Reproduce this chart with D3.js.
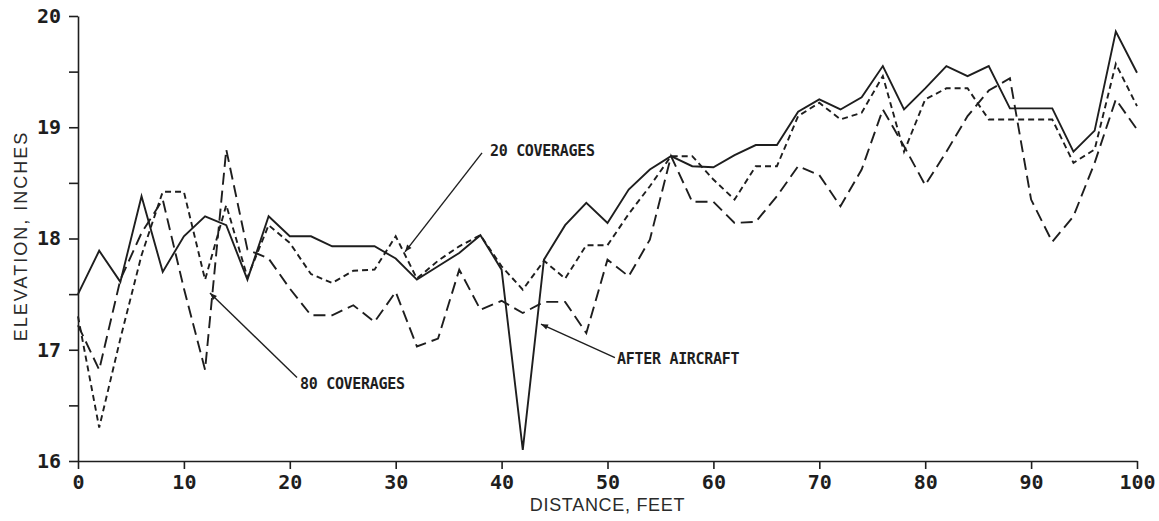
<!DOCTYPE html>
<html>
<head>
<meta charset="utf-8">
<script src="https://cdn.jsdelivr.net/npm/d3@7"></script>
<style>
  html, body { margin: 0; padding: 0; background: #ffffff; }
  svg { display: block; }
</style>
</head>
<body>
<svg id="chart" width="1159" height="521"></svg>
<script>
// Surface elevation profiles along the test lane, read every 2 ft
const distanceFt = [0,2,4,6,8,10,12,14,16,18,20,22,24,26,28,30,32,34,36,38,40,42,44,46,48,50,
  52,54,56,58,60,62,64,66,68,70,72,74,76,78,80,82,84,86,88,90,92,94,96,98,100];

const afterAircraft = [17.50,17.89,17.61,18.38,17.70,18.02,18.20,18.12,17.63,18.20,18.02,18.02,17.93,
  17.93,17.93,17.82,17.63,17.75,17.87,18.03,17.72,16.10,17.81,18.12,18.32,18.14,18.44,18.62,18.74,
  18.65,18.64,18.75,18.84,18.84,19.14,19.25,19.16,19.27,19.55,19.16,19.35,19.55,19.46,19.55,19.17,
  19.17,19.17,18.78,18.97,19.86,19.49];

const coverages20 = [17.30,16.30,17.10,17.85,18.42,18.42,17.63,18.30,17.65,18.12,17.96,17.68,17.60,
  17.71,17.72,18.02,17.64,17.80,17.93,18.03,17.75,17.54,17.80,17.64,17.94,17.94,18.22,18.47,18.74,
  18.74,18.53,18.35,18.65,18.65,19.10,19.22,19.07,19.13,19.46,18.78,19.25,19.35,19.35,19.07,19.07,
  19.07,19.07,18.68,18.80,19.57,19.19];

const coverages80 = [17.22,16.82,17.63,18.05,18.35,17.55,16.82,18.80,17.90,17.82,17.55,17.31,17.31,
  17.40,17.25,17.52,17.03,17.10,17.72,17.36,17.44,17.33,17.43,17.43,17.15,17.81,17.66,17.99,18.74,
  18.33,18.33,18.14,18.15,18.38,18.65,18.57,18.29,18.62,19.16,18.83,18.48,18.78,19.10,19.33,19.44,
  18.35,17.97,18.20,18.68,19.25,18.98];

const xTickValues = [0,10,20,30,40,50,60,70,80,90,100];
const yTickValues = [16,16.5,17,17.5,18,18.5,19,19.5,20];
const yTickLabels = ["16","","17","","18","","19","","20"];

const xTitle = "DISTANCE, FEET";
const yTitle = "ELEVATION, INCHES";

const seriesNames = ["AFTER AIRCRAFT", "20 COVERAGES", "80 COVERAGES"];

// ---- drawing ----
const svg = d3.select("#chart");
const ink = "#1e1e1e";

const x = d3.scaleLinear().domain([0, 100]).range([78, 1137]);
const y = d3.scaleLinear().domain([16, 20]).range([461, 16]);

const tickFont = "'DejaVu Sans Mono', monospace";

// y axis
const yAxis = svg.append("g")
  .attr("transform", `translate(${x(0)},0)`)
  .call(d3.axisLeft(y)
    .tickValues(yTickValues)
    .tickFormat((d, i) => yTickLabels[i])
    .tickSize(9)
    .tickSizeOuter(0)
    .tickPadding(8));

// x axis
const xAxis = svg.append("g")
  .attr("transform", `translate(0,${y(16)})`)
  .call(d3.axisBottom(x)
    .tickValues(xTickValues)
    .tickFormat(d3.format("d"))
    .tickSize(8)
    .tickSizeOuter(0)
    .tickPadding(6));

[xAxis, yAxis].forEach(g => {
  g.select(".domain").attr("stroke", ink).attr("stroke-width", 1.6);
  g.selectAll(".tick line").attr("stroke", ink).attr("stroke-width", 1.6);
  g.selectAll(".tick text")
    .attr("fill", ink)
    .style("font-family", tickFont)
    .style("font-weight", "bold")
    .style("font-size", "20px");
});

// axis titles
svg.append("text")
  .attr("x", (x(0) + x(100)) / 2)
  .attr("y", 511)
  .attr("text-anchor", "middle")
  .attr("fill", "#2a2a2a")
  .style("font-family", "'Liberation Sans', Arial, sans-serif")
  .style("font-size", "18px")
  .style("letter-spacing", "0.7px")
  .text(xTitle);

svg.append("text")
  .attr("transform", "translate(27,236) rotate(-90)")
  .attr("text-anchor", "middle")
  .attr("fill", "#2a2a2a")
  .style("font-family", "'Liberation Sans', Arial, sans-serif")
  .style("font-size", "18px")
  .style("letter-spacing", "2px")
  .text(yTitle);

// profile lines
const line = d3.line()
  .x((d, i) => x(distanceFt[i]))
  .y(d => y(d));

const profiles = [
  { values: afterAircraft, dash: null },
  { values: coverages20, dash: "6,4" },
  { values: coverages80, dash: "12,6" }
];

svg.append("g").selectAll("path")
  .data(profiles)
  .join("path")
  .attr("d", p => line(p.values))
  .attr("fill", "none")
  .attr("stroke", ink)
  .attr("stroke-width", 1.9)
  .attr("stroke-linejoin", "miter")
  .attr("stroke-dasharray", p => p.dash);

// callouts: arrow tip on the curve, tail at the label
svg.append("defs").append("marker")
  .attr("id", "head")
  .attr("viewBox", "0 0 10 10")
  .attr("refX", 10).attr("refY", 5)
  .attr("markerWidth", 9).attr("markerHeight", 7)
  .attr("markerUnits", "userSpaceOnUse")
  .attr("orient", "auto")
  .append("path")
  .attr("d", "M0,1 L10,5 L0,9 Z")
  .attr("fill", ink);

const callouts = [
  { name: seriesNames[1], tip: [30.88, 17.88], tail: [38.15, 18.77], at: [38.9, 18.745] },
  { name: seriesNames[2], tip: [12.46, 17.51], tail: [20.68, 16.75], at: [20.96, 16.65] },
  { name: seriesNames[0], tip: [43.72, 17.23], tail: [50.70, 16.93], at: [50.90, 16.87] }
];

const cg = svg.append("g");
cg.selectAll("line")
  .data(callouts)
  .join("line")
  .attr("x1", c => x(c.tail[0])).attr("y1", c => y(c.tail[1]))
  .attr("x2", c => x(c.tip[0])).attr("y2", c => y(c.tip[1]))
  .attr("stroke", ink)
  .attr("stroke-width", 1.4)
  .attr("marker-end", "url(#head)");

cg.selectAll("text")
  .data(callouts)
  .join("text")
  .attr("x", c => x(c.at[0]))
  .attr("y", c => y(c.at[1]))
  .attr("fill", ink)
  .style("font-family", tickFont)
  .style("font-weight", "bold")
  .style("font-size", "15px")
  .style("letter-spacing", "-0.3px")
  .text(c => c.name);
</script>
</body>
</html>
